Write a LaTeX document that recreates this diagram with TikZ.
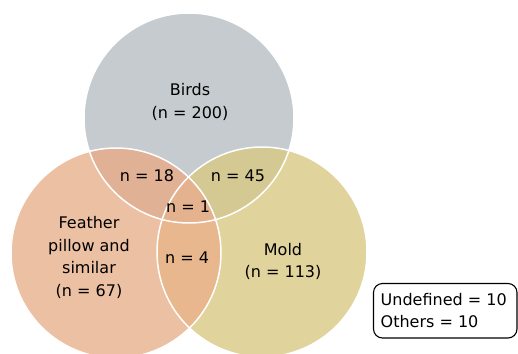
\documentclass[tikz,border=0pt]{standalone}
\usepackage{fontspec}
\setmainfont{DejaVu Sans}
\definecolor{cB}{HTML}{C5CBCE}
\definecolor{cF}{HTML}{ECC0A2}
\definecolor{cM}{HTML}{E0D39B}
\definecolor{cBF}{HTML}{E0B195}
\definecolor{cBM}{HTML}{D5C993}
\definecolor{cFM}{HTML}{E8B78E}
\definecolor{cBFM}{HTML}{E4B28E}
\tikzset{
  lbl/.style={font=\fontsize{16}{22.5}\selectfont, align=center, inner sep=0pt},
  rim/.style={draw=white, line width=1.5pt}
}
\begin{document}
\begin{tikzpicture}[x=1pt,y=-1pt]
\clip (0,0) rectangle (518,353);
\fill[white] (0,0) rectangle (518,353);
\coordinate (cb) at (189,118);
\coordinate (cf) at (116,253);
\coordinate (cm) at (262,252);
\def\R{105}
\fill[cB] (cb) circle (\R);
\fill[cF] (cf) circle (\R);
\fill[cM] (cm) circle (\R);
\begin{scope}
  \clip (cb) circle (\R);
  \fill[cBF] (cf) circle (\R);
  \fill[cBM] (cm) circle (\R);
\end{scope}
\begin{scope}
  \clip (cf) circle (\R);
  \fill[cFM] (cm) circle (\R);
  \clip (cm) circle (\R);
  \fill[cBFM] (cb) circle (\R);
\end{scope}
\draw[rim] (cb) circle (\R);
\draw[rim] (cf) circle (\R);
\draw[rim] (cm) circle (\R);
\node[lbl] (birds) at (190,102) {Birds\\(n = 200)};
\node[lbl] (feather) at (89,257.5) {Feather\\pillow and\\similar\\(n = 67)};
\node[lbl] (mold) at (283,261.5) {Mold\\(n = 113)};
\node[lbl] (bf) at (147,176) {n = 18};
\node[lbl] (bm) at (238,176) {n = 45};
\node[lbl] (bfm) at (188,207) {n = 1};
\node[lbl] (fm) at (187,258) {n = 4};
\draw[black, line width=1.1pt, rounded corners=9pt] (373.5,283.5) rectangle (517,338);
\node[lbl, align=left, anchor=west] (other) at (380.5,310.5) {Undefined = 10\\Others = 10};
\end{tikzpicture}
\end{document}
